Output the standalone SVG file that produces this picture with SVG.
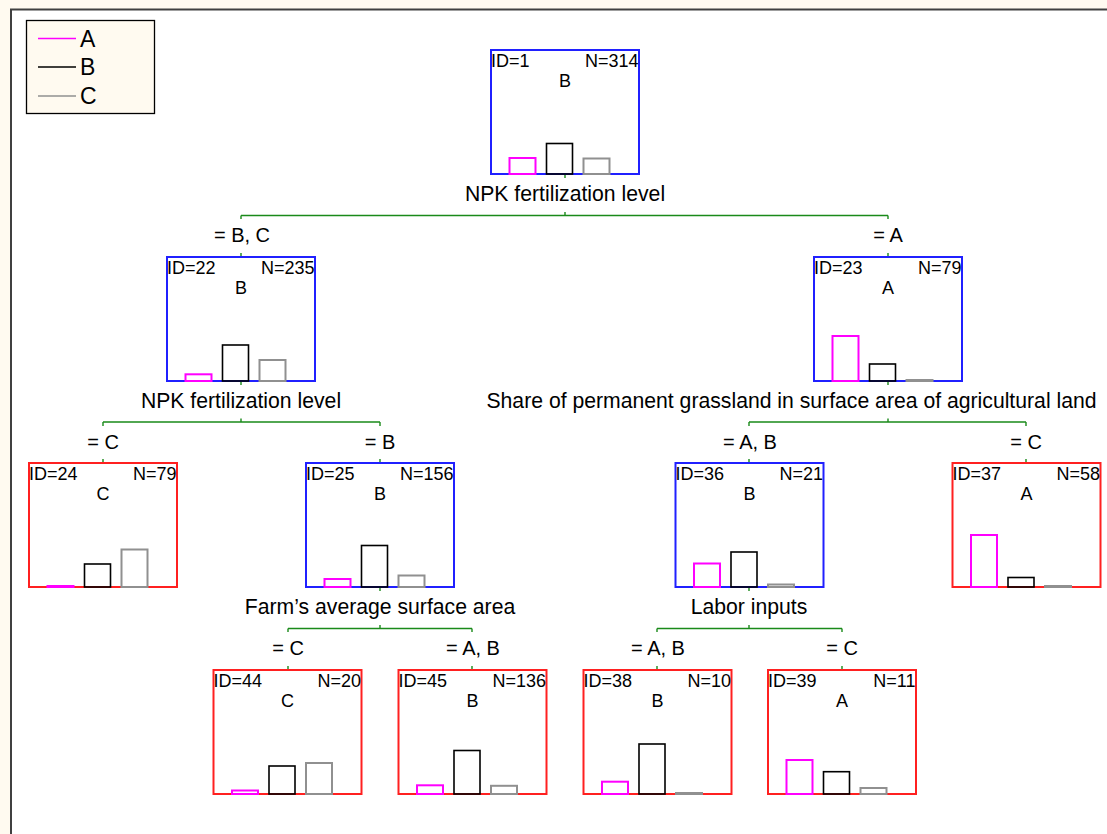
<svg xmlns="http://www.w3.org/2000/svg" width="1107" height="834" viewBox="0 0 1107 834">
<style>
text{font-family:"Liberation Sans",Arial,sans-serif;fill:#000}
.nt{font-size:18px}
.lbl{font-size:21.2px;text-anchor:middle}
.el{font-size:20px;text-anchor:middle}
.lg{font-size:23px}
.bl{fill:#fff;stroke:#2020ff;stroke-width:2}
.rd{fill:#fff;stroke:#ff2020;stroke-width:2}
.pa{fill:none;stroke:#ff00ff;stroke-width:2}
.pb{fill:none;stroke:#000;stroke-width:1.6}
.pc{fill:none;stroke:#909090;stroke-width:2}
.cn{fill:none;stroke:#1a8a1a;stroke-width:1.4}
</style>
<rect x="0" y="0" width="1107" height="834" fill="#fffaf0"/>
<rect x="11" y="9.5" width="1200" height="900" fill="#fff" stroke="#404040" stroke-width="2"/>
<g id="legend">
<rect x="26.5" y="20.5" width="128" height="93" fill="#fffaf0" stroke="#000" stroke-width="1.3"/>
<line x1="38" y1="38.5" x2="76" y2="38.5" stroke="#ff00ff" stroke-width="1.5"/>
<line x1="38" y1="67" x2="76" y2="67" stroke="#000" stroke-width="1.5"/>
<line x1="38" y1="96" x2="76" y2="96" stroke="#909090" stroke-width="1.5"/>
<text class="lg" x="80" y="46.5">A</text>
<text class="lg" x="80" y="74.5">B</text>
<text class="lg" x="80" y="103.5">C</text>
</g>
<g id="connectors">
<path class="cn" d="M565 174V178M565 212V215.5M241 215.5H888M241 215.5V219M888 215.5V219M241 253V257M888 253V257"/>
<path class="cn" d="M241 381V385M241 418.5V422M103 422H380M103 422V426M380 422V426M103 459V463M380 459V463"/>
<path class="cn" d="M888 381V385M888 418.5V422M749 422H1026M749 422V426M1026 422V426M749 459V463M1026 459V463"/>
<path class="cn" d="M380 587V591M380 625V628.5M288 628.5H472M288 628.5V632M472 628.5V632M288 666V670M472 666V670"/>
<path class="cn" d="M749 587V591M749 625V628.5M657 628.5H842M657 628.5V632M842 628.5V632M657 666V670M842 666V670"/>
<text class="lbl" x="565" y="200.5">NPK fertilization level</text>
<text class="lbl" x="241" y="407.5">NPK fertilization level</text>
<text class="lbl" x="791.5" y="407.5">Share of permanent grassland in surface area of agricultural land</text>
<text class="lbl" x="380" y="613.5">Farm’s average surface area</text>
<text class="lbl" x="749" y="613.5">Labor inputs</text>
<text class="el" x="242" y="242">= B, C</text>
<text class="el" x="888" y="242">= A</text>
<text class="el" x="103" y="448.5">= C</text>
<text class="el" x="380" y="448.5">= B</text>
<text class="el" x="750" y="448.5">= A, B</text>
<text class="el" x="1026" y="448.5">= C</text>
<text class="el" x="288" y="655">= C</text>
<text class="el" x="473" y="655">= A, B</text>
<text class="el" x="658" y="655">= A, B</text>
<text class="el" x="842" y="655">= C</text>
</g>
<g id="node1">
<rect class="bl" x="491" y="50" width="148" height="124"/>
<text class="nt" x="491" y="67">ID=1</text>
<text class="nt" x="638.5" y="67" text-anchor="end">N=314</text>
<text class="nt" x="565" y="86.5" text-anchor="middle">B</text>
<rect class="pa" x="509.5" y="158" width="26" height="16"/>
<rect class="pb" x="546.5" y="143.5" width="26" height="30.5"/>
<rect class="pc" x="583.5" y="158.5" width="26" height="15.5"/>
</g>
<g id="node22">
<rect class="bl" x="167" y="257" width="148" height="124"/>
<text class="nt" x="167" y="274">ID=22</text>
<text class="nt" x="314.5" y="274" text-anchor="end">N=235</text>
<text class="nt" x="241" y="293.5" text-anchor="middle">B</text>
<rect class="pa" x="185.5" y="374.3" width="26" height="6.7"/>
<rect class="pb" x="222.5" y="345" width="26" height="36"/>
<rect class="pc" x="259.5" y="360" width="26" height="21"/>
</g>
<g id="node23">
<rect class="bl" x="814" y="257" width="148" height="124"/>
<text class="nt" x="814" y="274">ID=23</text>
<text class="nt" x="961.5" y="274" text-anchor="end">N=79</text>
<text class="nt" x="888" y="293.5" text-anchor="middle">A</text>
<rect class="pa" x="832.5" y="336" width="26" height="45"/>
<rect class="pb" x="869.5" y="364" width="26" height="17"/>
<rect class="pc" x="906.5" y="380" width="26" height="1"/>
</g>
<g id="node24">
<rect class="rd" x="29" y="463" width="148" height="124"/>
<text class="nt" x="29" y="480">ID=24</text>
<text class="nt" x="176.5" y="480" text-anchor="end">N=79</text>
<text class="nt" x="103" y="499.5" text-anchor="middle">C</text>
<rect class="pa" x="47.5" y="586" width="26" height="1"/>
<rect class="pb" x="84.5" y="564" width="26" height="23"/>
<rect class="pc" x="121.5" y="549.5" width="26" height="37.5"/>
</g>
<g id="node25">
<rect class="bl" x="306" y="463" width="148" height="124"/>
<text class="nt" x="306" y="480">ID=25</text>
<text class="nt" x="453.5" y="480" text-anchor="end">N=156</text>
<text class="nt" x="380" y="499.5" text-anchor="middle">B</text>
<rect class="pa" x="324.5" y="579" width="26" height="8"/>
<rect class="pb" x="361.5" y="545.5" width="26" height="41.5"/>
<rect class="pc" x="398.5" y="575.5" width="26" height="11.5"/>
</g>
<g id="node36">
<rect class="bl" x="675.5" y="463" width="148" height="124"/>
<text class="nt" x="675.5" y="480">ID=36</text>
<text class="nt" x="823" y="480" text-anchor="end">N=21</text>
<text class="nt" x="749.5" y="499.5" text-anchor="middle">B</text>
<rect class="pa" x="694" y="563.5" width="26" height="23.5"/>
<rect class="pb" x="731" y="552" width="26" height="35"/>
<rect class="pc" x="768" y="584.5" width="26" height="2.5"/>
</g>
<g id="node37">
<rect class="rd" x="952.5" y="463" width="148" height="124"/>
<text class="nt" x="952.5" y="480">ID=37</text>
<text class="nt" x="1100" y="480" text-anchor="end">N=58</text>
<text class="nt" x="1026.5" y="499.5" text-anchor="middle">A</text>
<rect class="pa" x="971" y="535" width="26" height="52"/>
<rect class="pb" x="1008" y="577.5" width="26" height="9.5"/>
<rect class="pc" x="1045" y="586" width="26" height="1"/>
</g>
<g id="node44">
<rect class="rd" x="213.5" y="670" width="148" height="124"/>
<text class="nt" x="213.5" y="687">ID=44</text>
<text class="nt" x="361" y="687" text-anchor="end">N=20</text>
<text class="nt" x="287.5" y="706.5" text-anchor="middle">C</text>
<rect class="pa" x="232" y="790.5" width="26" height="3.5"/>
<rect class="pb" x="269" y="766" width="26" height="28"/>
<rect class="pc" x="306" y="763" width="26" height="31"/>
</g>
<g id="node45">
<rect class="rd" x="398.5" y="670" width="148" height="124"/>
<text class="nt" x="398.5" y="687">ID=45</text>
<text class="nt" x="546" y="687" text-anchor="end">N=136</text>
<text class="nt" x="472.5" y="706.5" text-anchor="middle">B</text>
<rect class="pa" x="417" y="785.3" width="26" height="8.7"/>
<rect class="pb" x="454" y="750.5" width="26" height="43.5"/>
<rect class="pc" x="491" y="785.8" width="26" height="8.2"/>
</g>
<g id="node38">
<rect class="rd" x="583.5" y="670" width="148" height="124"/>
<text class="nt" x="583.5" y="687">ID=38</text>
<text class="nt" x="731" y="687" text-anchor="end">N=10</text>
<text class="nt" x="657.5" y="706.5" text-anchor="middle">B</text>
<rect class="pa" x="602" y="781.7" width="26" height="12.3"/>
<rect class="pb" x="639" y="744" width="26" height="50"/>
<rect class="pc" x="676" y="793" width="26" height="1"/>
</g>
<g id="node39">
<rect class="rd" x="768" y="670" width="148" height="124"/>
<text class="nt" x="768" y="687">ID=39</text>
<text class="nt" x="915.5" y="687" text-anchor="end">N=11</text>
<text class="nt" x="842" y="706.5" text-anchor="middle">A</text>
<rect class="pa" x="786.5" y="760" width="26" height="34"/>
<rect class="pb" x="823.5" y="771.7" width="26" height="22.3"/>
<rect class="pc" x="860.5" y="788" width="26" height="6"/>
</g>
</svg>
